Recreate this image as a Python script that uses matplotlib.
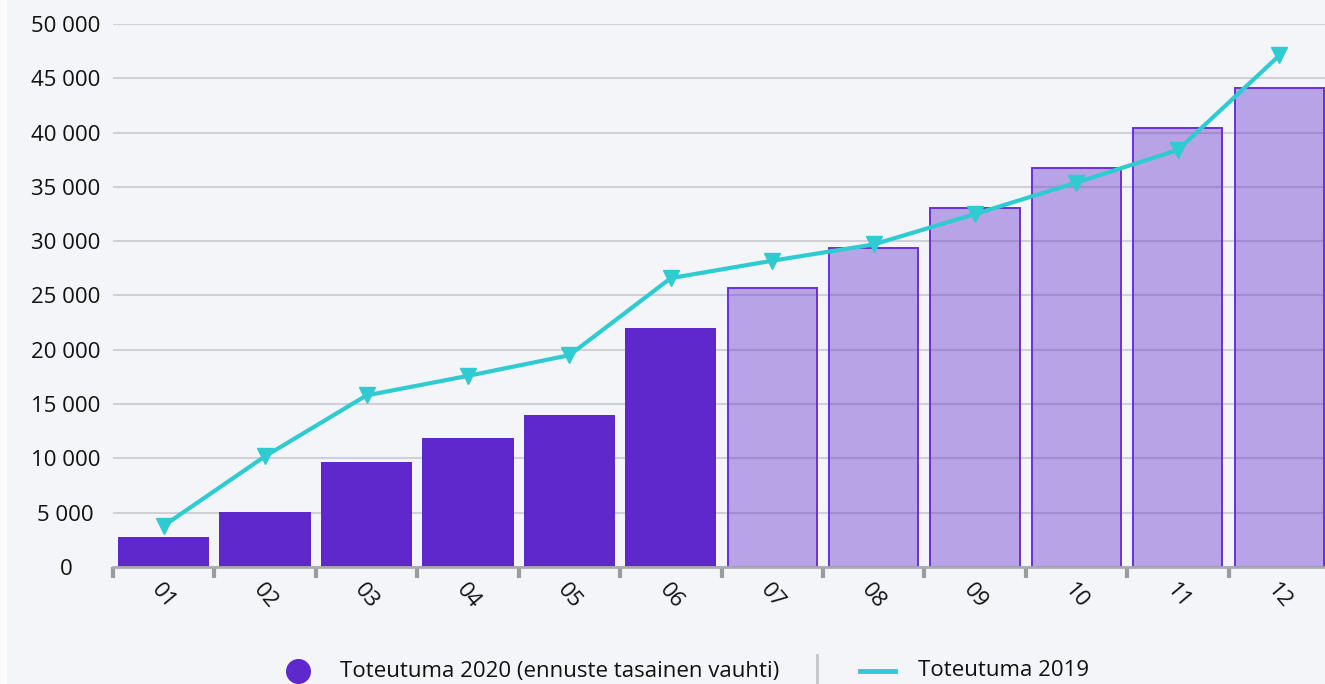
import matplotlib
matplotlib.use('Agg')
import matplotlib.pyplot as plt
from matplotlib.lines import Line2D
from matplotlib.patches import Rectangle
from matplotlib.ticker import FuncFormatter, FixedLocator

# data
months = ['01', '02', '03', '04', '05', '06', '07', '08', '09', '10', '11', '12']
toteutuma_2020 = [2800, 5100, 9700, 11900, 14000, 22000, 25700, 29400, 33100, 36700, 40400, 44100]
forecast = [False, False, False, False, False, False, True, True, True, True, True, True]
toteutuma_2019 = [3800, 10200, 15800, 17600, 19500, 26600, 28200, 29700, 32500, 35400, 38400, 47100]

purple = '#5f28cc'
light = (0.373, 0.157, 0.8, 0.40)
teal = '#2ecbd1'
bg = '#f4f5f9'
fs = 16

plt.rcParams['font.family'] = ['Open Sans', 'DejaVu Sans']

fig = plt.figure(figsize=(13.25, 6.84), dpi=100)
fig.patch.set_facecolor(bg)
fig.patches.append(Rectangle((0, 0), 7 / 1325., 1, transform=fig.transFigure,
                             facecolor='#fbfbfc', edgecolor='none', zorder=0))

ax = fig.add_axes([113 / 1325., 1 - 567 / 684., 1217 / 1325., 543 / 684.])
ax.set_facecolor(bg)

x = list(range(len(months)))
for i in x:
    if forecast[i]:
        ax.bar(i, toteutuma_2020[i], width=0.88, facecolor=light,
               edgecolor='#6a30d8', linewidth=1.4, zorder=3)
    else:
        ax.bar(i, toteutuma_2020[i], width=0.9, color=purple, zorder=3)

ax.plot(x, toteutuma_2019, color=teal, linewidth=3, marker='v',
        markersize=11, zorder=4)

ax.set_xlim(-0.5, 11.5)
ax.set_ylim(0, 50000)
ax.set_yticks(range(0, 50001, 5000))
ax.yaxis.set_major_formatter(FuncFormatter(lambda v, p: format(int(v), ',').replace(',', ' ')))
ax.grid(axis='y', color='#d0d1d7', linewidth=1.5, zorder=0)
ax.set_axisbelow(True)

for s in ['left', 'right', 'top']:
    ax.spines[s].set_visible(False)
ax.spines['bottom'].set_color('#a9abb0')
ax.spines['bottom'].set_linewidth(2)
ax.spines['bottom'].set_zorder(5)

ax.tick_params(axis='y', length=0, labelsize=fs, pad=34, labelcolor='#111111')
ax.set_xticks(x)
ax.set_xticklabels(months)
ax.tick_params(axis='x', which='major', length=0, labelsize=fs, pad=9, labelcolor='#111111')
ax.xaxis.set_minor_locator(FixedLocator([i - 0.5 for i in range(13)]))
ax.tick_params(axis='x', which='minor', length=8, width=3, color='#9a9ca1')
for lab in ax.get_xticklabels():
    lab.set_rotation(-50)
    lab.set_ha('center')
    lab.set_va('top')

for lab in ax.get_yticklabels():
    lab.set_ha('center')

# legend drawn at the bottom
fig.add_artist(Line2D([298 / 1325.], [1 - 671 / 684.], marker='o', markersize=17,
                      color=purple, transform=fig.transFigure, linestyle='none'))
fig.text(340 / 1325., 1 - 671 / 684., 'Toteutuma 2020 (ennuste tasainen vauhti)',
         fontsize=fs, va='center', ha='left', color='#111111')
fig.add_artist(Line2D([817 / 1325., 817 / 1325.], [1 - 655 / 684., 0], color='#c4c5c9',
                      linewidth=2, transform=fig.transFigure))
fig.add_artist(Line2D([860 / 1325., 895 / 1325.], [1 - 671 / 684., 1 - 671 / 684.],
                      color=teal, linewidth=3.5, transform=fig.transFigure))
fig.text(918 / 1325., 1 - 671 / 684., 'Toteutuma 2019',
         fontsize=fs, va='center', ha='left', color='#111111')

fig.savefig('out.png', dpi=100, facecolor=bg)
